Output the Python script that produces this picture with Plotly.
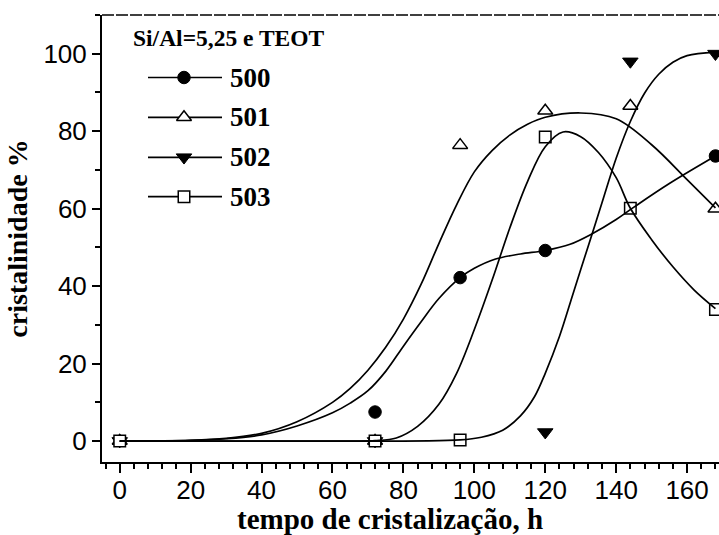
import plotly.graph_objects as go

# ---------------- data ----------------
legend_title = "Si/Al=5,25 e TEOT"
series_names = ["500", "501", "502", "503"]

x500 = [72, 96, 120, 168]
y500 = [7.5, 42.2, 49.2, 73.6]

x501 = [0, 72, 96, 120, 144, 168]
y501 = [0, 0, 76.4, 85.3, 86.5, 60.0]

x502 = [0, 72, 120, 144, 168]
y502 = [0, 0, 2.3, 98.0, 100.0]

x503 = [0, 72, 96, 120, 144, 168]
y503 = [0, 0, 0.3, 78.5, 60.1, 34.0]

# fitted curves
fit500_x = [0, 20, 30, 40, 50, 60, 65, 70, 75, 80, 85, 90, 96, 100, 106, 113, 120, 127, 133, 140, 145, 155, 168]
fit500_y = [0, 0.2, 0.6, 1.6, 3.9, 7.3, 9.8, 13.0, 18.0, 24.5, 30.8, 36.8, 42.2, 44.6, 47.0, 48.3, 49.2, 50.8, 53.4, 57.2, 60.4, 66.5, 73.6]

fit501_x = [0, 20, 30, 40, 50, 60, 65, 70, 75, 80, 85, 90, 95, 100, 105, 110, 115, 120, 130, 140, 150, 160, 168]
fit501_y = [0, 0.2, 0.7, 2.0, 5.0, 10.0, 13.6, 18.3, 24.2, 31.5, 40.5, 51.0, 61.0, 69.5, 75.0, 79.0, 81.8, 83.6, 84.7, 83.2, 76.5, 67.5, 60.2]

fit502_x = [0, 50, 96, 102, 108, 113, 117, 120, 124, 128, 132, 136, 140, 144, 148, 152, 156, 160, 168]
fit502_y = [0, 0, 0.3, 1.0, 2.8, 6.5, 11.5, 17.5, 27.0, 38.5, 50.0, 61.5, 73.0, 82.5, 89.8, 94.7, 97.8, 99.5, 100.4]

fit503_x = [0, 40, 65, 72, 78, 84, 90, 95, 100, 105, 110, 115, 120, 125, 130, 135, 140, 144, 150, 156, 162, 168]
fit503_y = [0, 0, 0, 0.1, 0.8, 3.8, 9.5, 17.5, 28.8, 41.5, 55.0, 67.0, 76.0, 79.8, 78.6, 74.5, 68.0, 60.1, 52.0, 45.0, 39.0, 34.2]

x_ticks = [0, 20, 40, 60, 80, 100, 120, 140, 160]
y_ticks = [0, 20, 40, 60, 80, 100]
x_title = "tempo de cristalização, h"
y_title = "cristalinidade %"

# ---------------- styles ----------------
BLACK = "#000000"
TICKFONT = dict(family="Liberation Sans, Arial", size=26, color=BLACK)
TITLEFONT = dict(family="Liberation Serif, Times New Roman", size=28, color=BLACK)
LEGFONT = dict(family="Liberation Serif, Times New Roman", size=27, color=BLACK)

marker_styles = {
    "500": dict(symbol="circle", size=12.5, color=BLACK, line=dict(color=BLACK, width=1)),
    "501": dict(symbol="triangle-up", size=13, color="white", line=dict(color=BLACK, width=1.5)),
    "502": dict(symbol="triangle-down", size=13.5, color=BLACK, line=dict(color=BLACK, width=1)),
    "503": dict(symbol="square", size=11.5, color="white", line=dict(color=BLACK, width=1.5)),
}

fig = go.Figure()

# markers
for name, xs, ys in [("501", x501, y501), ("502", x502, y502),
                     ("500", x500, y500), ("503", x503, y503)]:
    fig.add_trace(go.Scatter(x=xs, y=ys, mode="markers", marker=marker_styles[name],
                             showlegend=False, cliponaxis=False, name=name))

# fitted curves on top
for fx, fy in [(fit500_x, fit500_y), (fit501_x, fit501_y),
               (fit502_x, fit502_y), (fit503_x, fit503_y)]:
    fig.add_trace(go.Scatter(x=fx, y=fy, mode="lines",
                             line=dict(color=BLACK, width=1.7, shape="spline", smoothing=1.0),
                             showlegend=False, hoverinfo="skip"))

# ---------------- hand-drawn legend on an overlay pixel axis ----------------
PX_L, PX_R, PX_T, PX_B = 102, 719, 15, 462
leg_rows = [77.5, 117.3, 157.3, 196.7]
line_x0, line_x1, mark_x, text_x = 148, 222, 184, 228
for name, ry in zip(series_names, leg_rows):
    fig.add_trace(go.Scatter(x=[line_x0, line_x1], y=[ry, ry], mode="lines",
                             line=dict(color=BLACK, width=1.7), xaxis="x2", yaxis="y2",
                             showlegend=False, hoverinfo="skip"))
    fig.add_trace(go.Scatter(x=[mark_x], y=[ry], mode="markers", marker=marker_styles[name],
                             xaxis="x2", yaxis="y2", showlegend=False, hoverinfo="skip"))
    fig.add_annotation(x=text_x, y=ry, xref="x2", yref="y2", text="<b>%s</b>" % name,
                       showarrow=False, xanchor="left", yanchor="middle", font=LEGFONT)
fig.add_annotation(x=131, y=38, xref="x2", yref="y2", text="<b>%s</b>" % legend_title,
                   showarrow=False, xanchor="left", yanchor="middle",
                   font=dict(family="Liberation Serif, Times New Roman", size=23.5, color=BLACK))

# x-axis title (centred where the reference has it)
fig.add_annotation(x=(390 - PX_L) / (PX_R - PX_L), y=0, xref="paper", yref="paper",
                   yshift=-57, text="<b>%s</b>" % x_title, showarrow=False,
                   xanchor="center", yanchor="middle",
                   font=dict(family="Liberation Serif, Times New Roman", size=29, color=BLACK))

# dashed-looking top frame line
fig.add_shape(type="line", xref="paper", yref="paper", x0=0, x1=1, y0=1, y1=1,
              line=dict(color=BLACK, width=1.5, dash="12px,2px"))

fig.update_layout(
    width=719, height=535,
    margin=dict(l=PX_L, r=719 - PX_R, t=PX_T, b=535 - PX_B),
    paper_bgcolor="white", plot_bgcolor="white",
    showlegend=False,
    xaxis=dict(range=[-5, 169], tickvals=x_ticks, ticks="outside", ticklen=9, tickwidth=1.5,
               tickcolor=BLACK, showline=True, linecolor=BLACK, linewidth=2, showgrid=False,
               zeroline=False, tickfont=TICKFONT, ticklabelstandoff=-5,
               minor=dict(dtick=4, tick0=0, ticks="outside", ticklen=5, tickwidth=1.5,
                          tickcolor=BLACK, showgrid=False)),
    yaxis=dict(range=[-5.4, 110], tickvals=y_ticks, ticks="outside", ticklen=8, tickwidth=1.5,
               tickcolor=BLACK, showline=True, linecolor=BLACK, linewidth=2, showgrid=False,
               zeroline=False, tickfont=TICKFONT,
               minor=dict(dtick=10, tick0=0, ticks="outside", ticklen=5, tickwidth=1.5,
                          tickcolor=BLACK, showgrid=False),
               title=dict(text="<b>%s</b>" % y_title, font=TITLEFONT, standoff=8)),
    xaxis2=dict(range=[PX_L, PX_R], overlaying="x", visible=False, fixedrange=True),
    yaxis2=dict(range=[PX_B, PX_T], overlaying="y", visible=False, fixedrange=True),
)

fig.write_html("out.html")
